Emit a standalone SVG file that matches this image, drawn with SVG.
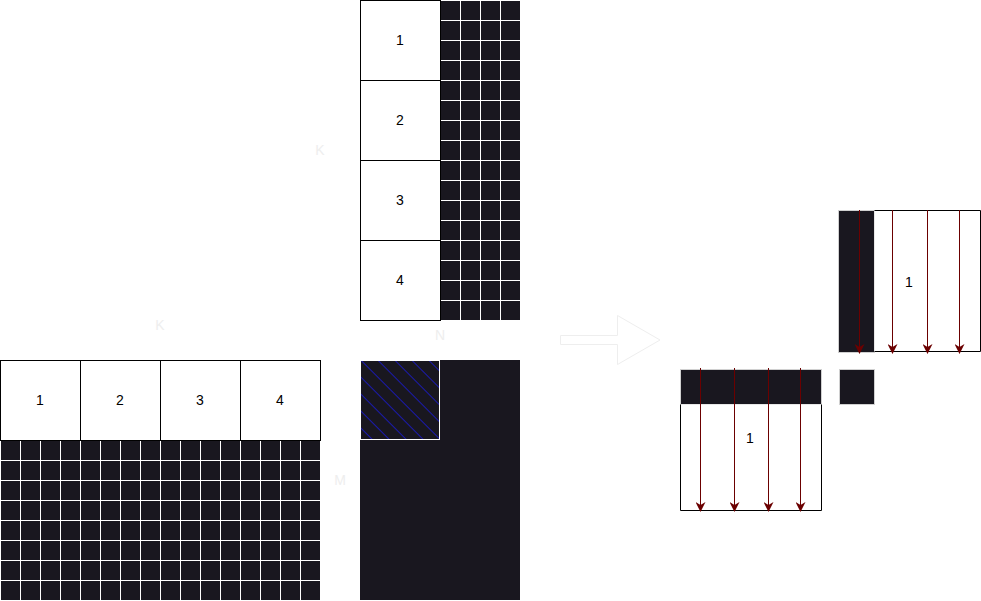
<svg xmlns="http://www.w3.org/2000/svg" width="981" height="601" viewBox="0 0 981 601">
<style>
.box{fill:#fff;stroke:#000;stroke-width:1}
.dark{fill:#19171f}
.t{font-family:"Liberation Sans",Arial,sans-serif;font-size:14px;fill:#000;text-anchor:middle;dominant-baseline:central}
.lbl{font-family:"Liberation Sans",Arial,sans-serif;font-size:14px;fill:#eeeeee;text-anchor:middle;dominant-baseline:central}
.ra{stroke:#6b0000;stroke-width:1;fill:none;marker-end:url(#ah)}
</style>
<defs>
<pattern id="grid" width="20" height="20" patternUnits="userSpaceOnUse">
<rect width="20" height="20" fill="#19171f"/>
<path d="M0 0H20M0 0V20" stroke="#ffffff" stroke-width="2"/>
</pattern>
<pattern id="hatch" width="12" height="12" patternUnits="userSpaceOnUse" patternTransform="rotate(-45)">
<rect width="12" height="12" fill="#19171f"/>
<path d="M0 0V12" stroke="#1a1ab0" stroke-width="2"/>
</pattern>
<marker id="ah" viewBox="0 0 10 10" refX="9" refY="5" markerWidth="10" markerHeight="10" orient="auto" markerUnits="userSpaceOnUse">
<path d="M0,0 L10,5 L0,10 L3,5 z" fill="#6b0000"/>
</marker>
</defs>

<g id="topGrid"><rect x="440" y="0" width="80" height="320" fill="url(#grid)"/></g>
<g id="topB1"><rect class="box" x="360.5" y="0.5" width="80" height="80"/><text class="t" x="400" y="40">1</text></g>
<g id="topB2"><rect class="box" x="360.5" y="80.5" width="80" height="80"/><text class="t" x="400" y="120">2</text></g>
<g id="topB3"><rect class="box" x="360.5" y="160.5" width="80" height="80"/><text class="t" x="400" y="200">3</text></g>
<g id="topB4"><rect class="box" x="360.5" y="240.5" width="80" height="80"/><text class="t" x="400" y="280">4</text></g>

<g id="leftGrid"><rect x="0" y="440" width="320" height="160" fill="url(#grid)"/></g>
<g id="leftB1"><rect class="box" x="0.5" y="360.5" width="80" height="80"/><text class="t" x="40" y="400">1</text></g>
<g id="leftB2"><rect class="box" x="80.5" y="360.5" width="80" height="80"/><text class="t" x="120" y="400">2</text></g>
<g id="leftB3"><rect class="box" x="160.5" y="360.5" width="80" height="80"/><text class="t" x="200" y="400">3</text></g>
<g id="leftB4"><rect class="box" x="240.5" y="360.5" width="80" height="80"/><text class="t" x="280" y="400">4</text></g>

<g id="result"><rect class="dark" x="360" y="360" width="160" height="240"/></g>
<g id="resultTile"><rect x="360.5" y="360.5" width="79" height="79" fill="url(#hatch)" stroke="#ffffff" stroke-width="1"/></g>

<g id="labelK1"><text class="lbl" x="320" y="150">K</text></g>
<g id="labelK2"><text class="lbl" x="160" y="325">K</text></g>
<g id="labelM"><text class="lbl" x="340" y="480">M</text></g>
<g id="labelN"><text class="lbl" x="440" y="335">N</text></g>

<g id="bigArrow"><path d="M560.5 335.5H617.5V315.5L660 340L617.5 364.5V344.5H560.5Z" fill="#fff" stroke="#eeeeee" stroke-width="1"/></g>

<g id="rowStrip"><rect class="dark" x="680.5" y="369.5" width="141" height="35" stroke="#d0d0d0" stroke-width="1"/></g>
<g id="rowBox"><path d="M680.5 404.5V510.5H821.5V404.5" fill="#fff" stroke="#000" stroke-width="1"/><text class="t" x="750" y="438">1</text></g>

<g id="colStrip"><rect class="dark" x="838.5" y="210.5" width="36" height="142" stroke="#d0d0d0" stroke-width="1"/></g>
<g id="colBox"><path d="M874.5 210.5H980.5V351.5H874.5" fill="#fff" stroke="#000" stroke-width="1"/><text class="t" x="909" y="282">1</text></g>

<g id="smallSquare"><rect class="dark" x="839.5" y="369.5" width="35" height="35" stroke="#d0d0d0" stroke-width="1"/></g>

<g id="connectors">
<line class="ra" x1="700.5" y1="368" x2="700.5" y2="511"/>
<line class="ra" x1="734.5" y1="368" x2="734.5" y2="511"/>
<line class="ra" x1="768.5" y1="368" x2="768.5" y2="511"/>
<line class="ra" x1="800.5" y1="368" x2="800.5" y2="511"/>
<line class="ra" x1="859.5" y1="210" x2="859.5" y2="353"/>
<line class="ra" x1="892.5" y1="210" x2="892.5" y2="353"/>
<line class="ra" x1="927.5" y1="210" x2="927.5" y2="353"/>
<line class="ra" x1="959.5" y1="210" x2="959.5" y2="353"/>
</g>
</svg>
